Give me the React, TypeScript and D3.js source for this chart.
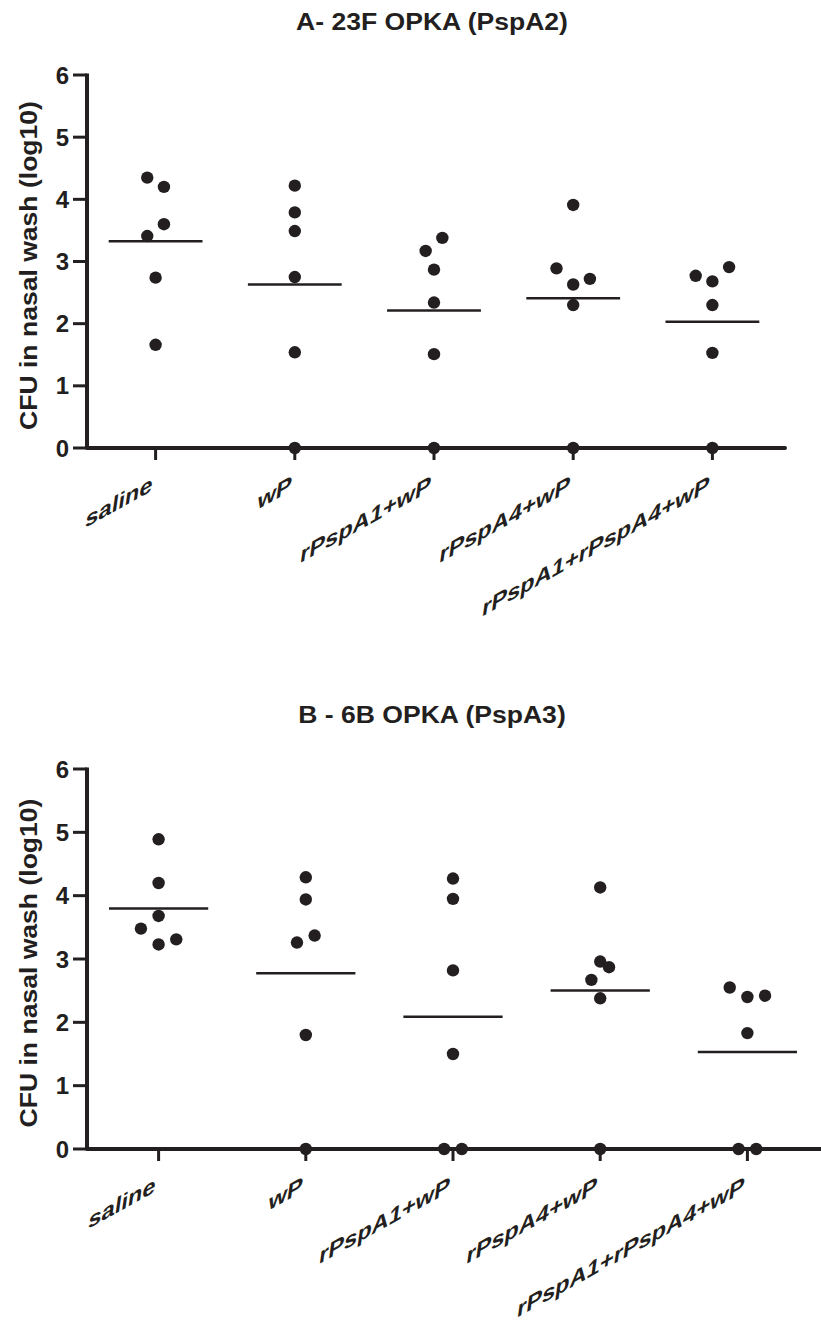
import React from "react";
import * as d3 from "d3";

// Categories and ticks
const groups = ["saline", "wP", "rPspA1+wP", "rPspA4+wP", "rPspA1+rPspA4+wP"];
const yTicks = [0, 1, 2, 3, 4, 5, 6];

// Panel A – 23F OPKA (PspA2), log10 CFU per mouse (listed in the order the dots sit, left to right, inside a row)
const aSaline = [4.35, 4.2, 3.41, 3.6, 2.74, 1.66];
const aWP = [4.22, 3.79, 3.49, 2.75, 1.54, 0];
const aA1 = [3.17, 3.38, 2.87, 2.34, 1.51, 0];
const aA4 = [3.91, 2.89, 2.63, 2.72, 2.3, 0];
const aA1A4 = [2.77, 2.68, 2.91, 2.3, 1.53, 0];

// Panel B – 6B OPKA (PspA3)
const bSaline = [4.89, 3.68, 4.2, 3.48, 3.23, 3.31];
const bWP = [4.29, 3.94, 3.26, 3.37, 1.8, 0];
const bA1 = [4.27, 3.95, 2.82, 1.5, 0, 0];
const bA4 = [4.13, 2.96, 2.38, 2.67, 2.87, 0];
const bA1A4 = [2.55, 2.4, 2.42, 1.83, 0, 0];

const titleA = "A- 23F OPKA (PspA2)";
const titleB = "B - 6B OPKA (PspA3)";
const yLabel = "CFU in nasal wash (log10)";

const FONT = "'Liberation Sans', Arial, Helvetica, sans-serif";
const INK = "#231f20";
const R = 6.2;
const SX = 1.13; // horizontal stretch of the lettering
const LSX = 1.15;
const TH = (29 * Math.PI) / 180; // baseline angle of category labels
const PH = (8 * Math.PI) / 180; // slant of category label stems
const LABEL_M = `matrix(${LSX * Math.cos(TH)},${-LSX * Math.sin(TH)},${-Math.sin(PH)},${Math.cos(PH)},0,0)`;

type PanelProps = {
  title: string;
  series: number[][];
  top: number; // pixel of y=6
  bottom: number; // pixel of y=0
  xr: [number, number];
  axisEnd: number;
  titleY: number;
};

function layoutGroup(vals: number[], y: d3.ScaleLinear<number, number>, cx: number, spacing: number) {
  // group consecutive, vertically close points into rows, then centre each row on the category
  const rows: number[][] = [];
  vals.forEach((v, i) => {
    if (i > 0 && Math.abs(y(v) - y(vals[i - 1])) < R * 2.8) rows[rows.length - 1].push(v);
    else rows.push([v]);
  });
  const pts: { x: number; y: number }[] = [];
  rows.forEach((row) => {
    row.forEach((v, j) => {
      pts.push({ x: cx + (j - (row.length - 1) / 2) * spacing, y: y(v) });
    });
  });
  return pts;
}

function Panel({ title, series, top, bottom, xr, axisEnd, titleY }: PanelProps) {
  const y = d3.scaleLinear().domain([0, 6]).range([bottom, top]);
  const x = d3.scalePoint<string>().domain(groups).range(xr).padding(0.5);
  const step = x.step();
  const axisX = 87;
  const spacing = step * 0.12;
  const meanHalf = step * 0.337;
  return (
    <g>
      <text
        transform={`translate(432,${titleY}) scale(${SX},1)`}
        textAnchor="middle"
        fontFamily={FONT}
        fontWeight="bold"
        fontSize={23.5}
        fill={INK}
      >
        {title}
      </text>
      <text
        transform={`translate(37,${(top + bottom) / 2 + 4}) rotate(-90) scale(${SX},1)`}
        textAnchor="middle"
        fontFamily={FONT}
        fontWeight="bold"
        fontSize={23.5}
        fill={INK}
      >
        {yLabel}
      </text>
      {/* y axis */}
      <line x1={axisX} x2={axisX} y1={top - 1.5} y2={bottom} stroke={INK} strokeWidth={4} />
      {yTicks.map((t) => (
        <g key={t}>
          <line x1={axisX - 14} x2={axisX} y1={y(t)} y2={y(t)} stroke={INK} strokeWidth={3} />
          <text
            x={axisX - 18}
            y={y(t) + 8.5}
            textAnchor="end"
            fontFamily={FONT}
            fontWeight="bold"
            fontSize={24}
            fill={INK}
          >
            {t}
          </text>
        </g>
      ))}
      {/* x axis */}
      <line x1={axisX} x2={axisEnd} y1={bottom} y2={bottom} stroke={INK} strokeWidth={4} strokeLinecap="round" />
      {groups.map((g) => {
        const cx = x(g) as number;
        return (
          <g key={g}>
            <line x1={cx} x2={cx} y1={bottom} y2={bottom + 12} stroke={INK} strokeWidth={3} />
            <text
              transform={`translate(${cx - 4},${bottom + 43}) ${LABEL_M}`}
              textAnchor="end"
              fontFamily={FONT}
              fontWeight="bold"
              fontSize={23.5}
              fill={INK}
            >
              {g}
            </text>
          </g>
        );
      })}
      {/* dots and means */}
      {series.map((vals, i) => {
        const cx = x(groups[i]) as number;
        const m = d3.mean(vals) as number;
        const pts = layoutGroup(vals, y, cx, spacing);
        return (
          <g key={i}>
            <line x1={cx - meanHalf} x2={cx + meanHalf} y1={y(m)} y2={y(m)} stroke={INK} strokeWidth={2.5} />
            {pts.map((p, k) => (
              <circle key={k} cx={p.x} cy={p.y} r={R} fill={INK} />
            ))}
          </g>
        );
      })}
    </g>
  );
}

export default function App() {
  return (
    <svg
      width={821}
      height={1332}
      viewBox="0 0 821 1332"
      style={{ position: "absolute", left: 0, top: 0, background: "#fff" }}
    >
      <rect width={821} height={1332} fill="#fff" />
      <Panel
        title={titleA}
        series={[aSaline, aWP, aA1, aA4, aA1A4]}
        top={75}
        bottom={448}
        xr={[86, 782]}
        axisEnd={785}
        titleY={30}
      />
      <Panel
        title={titleB}
        series={[bSaline, bWP, bA1, bA4, bA1A4]}
        top={769}
        bottom={1149}
        xr={[85, 821]}
        axisEnd={823}
        titleY={723}
      />
    </svg>
  );
}
